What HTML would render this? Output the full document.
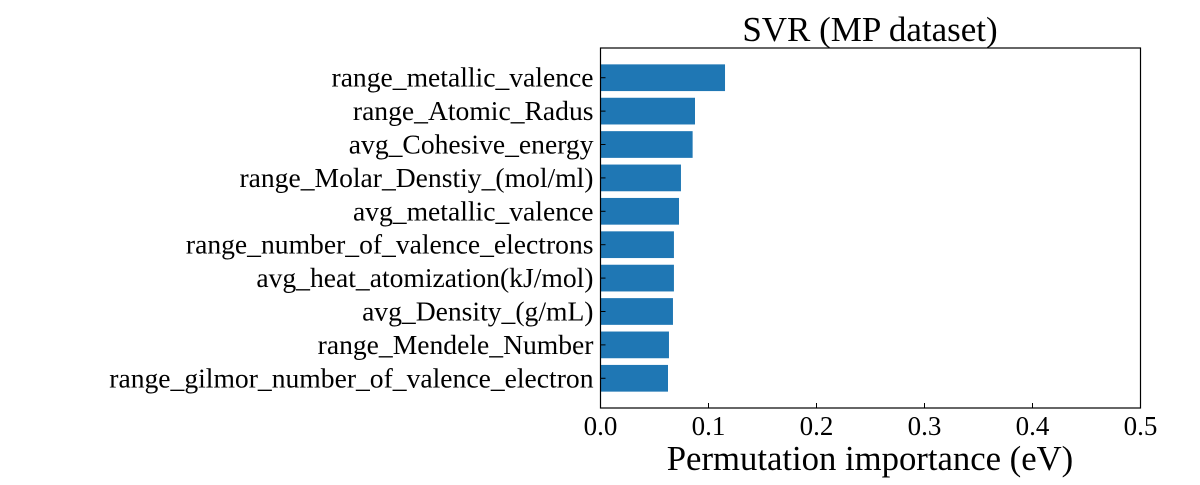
<!DOCTYPE html>
<html><head><meta charset="utf-8"><style>
html,body{margin:0;padding:0;background:#fff;}
svg text{font-family:"Liberation Serif","DejaVu Serif",serif;fill:#000;}
</style></head><body>
<svg id="chart" width="1200" height="480" xmlns="http://www.w3.org/2000/svg">
<text x="870" y="41" font-size="35" text-anchor="middle">SVR (MP dataset)</text>
<g id="bars"></g>
<g id="yticks"></g>
<g id="xticks"></g>
<rect x="600.5" y="48" width="540" height="360" fill="none" stroke="#000" stroke-width="1.2"/>
<text x="870" y="470" font-size="34.7" text-anchor="middle">Permutation importance (eV)</text>
</svg>
<script>
const features = ["range_metallic_valence","range_Atomic_Radus","avg_Cohesive_energy","range_Molar_Denstiy_(mol/ml)","avg_metallic_valence","range_number_of_valence_electrons","avg_heat_atomization(kJ/mol)","avg_Density_(g/mL)","range_Mendele_Number","range_gilmor_number_of_valence_electron"];
const importances = [0.1153,0.0875,0.0853,0.0745,0.0727,0.068,0.068,0.0671,0.0634,0.0625];
const xTicks = [0.0,0.1,0.2,0.3,0.4,0.5];
const xTickLabels = ["0.0","0.1","0.2","0.3","0.4","0.5"];

const L=600.5,R=1140.5,T=48,B=408;
const n=features.length;
const lo=-0.4-0.49, hi=(n-1)+0.4+0.49;
const xs=v=>L+(v-0)/(0.5-0)*(R-L);
const ys=i=>T+(i-lo)/(hi-lo)*(B-T);
const unit=(B-T)/(hi-lo);
const NS="http://www.w3.org/2000/svg";
const bars=document.getElementById('bars'),yt=document.getElementById('yticks'),xt=document.getElementById('xticks');
features.forEach((f,i)=>{
  const c=ys(i);
  const r=document.createElementNS(NS,'rect');
  r.setAttribute('x',xs(0));r.setAttribute('y',c-0.4*unit);
  r.setAttribute('width',xs(importances[i])-xs(0));r.setAttribute('height',0.8*unit);
  r.setAttribute('fill','#1f77b4');
  
  
  bars.appendChild(r);
  const t=document.createElementNS(NS,'line');
  t.setAttribute('x1',L);t.setAttribute('x2',L+5);t.setAttribute('y1',c);t.setAttribute('y2',c);
  t.setAttribute('stroke','#000');
  
  
  yt.appendChild(t);
  const tx=document.createElementNS(NS,'text');
  tx.setAttribute('x',L-7);tx.setAttribute('y',c+9);tx.setAttribute('font-size','27.6');tx.setAttribute('text-anchor','end');
  tx.textContent=f;
  
  
  yt.appendChild(tx);
});
xTicks.forEach((v,i)=>{
  const x=xs(v);
  const t=document.createElementNS(NS,'line');
  t.setAttribute('x1',x);t.setAttribute('x2',x);t.setAttribute('y1',B);t.setAttribute('y2',B-5);
  t.setAttribute('stroke','#000');
  
  
  xt.appendChild(t);
  const tx=document.createElementNS(NS,'text');
  tx.setAttribute('x',x);tx.setAttribute('y',B+27);tx.setAttribute('font-size','27');tx.setAttribute('text-anchor','middle');
  tx.textContent=xTickLabels[i];
  
  
  xt.appendChild(tx);
});
</script>
</body></html>
